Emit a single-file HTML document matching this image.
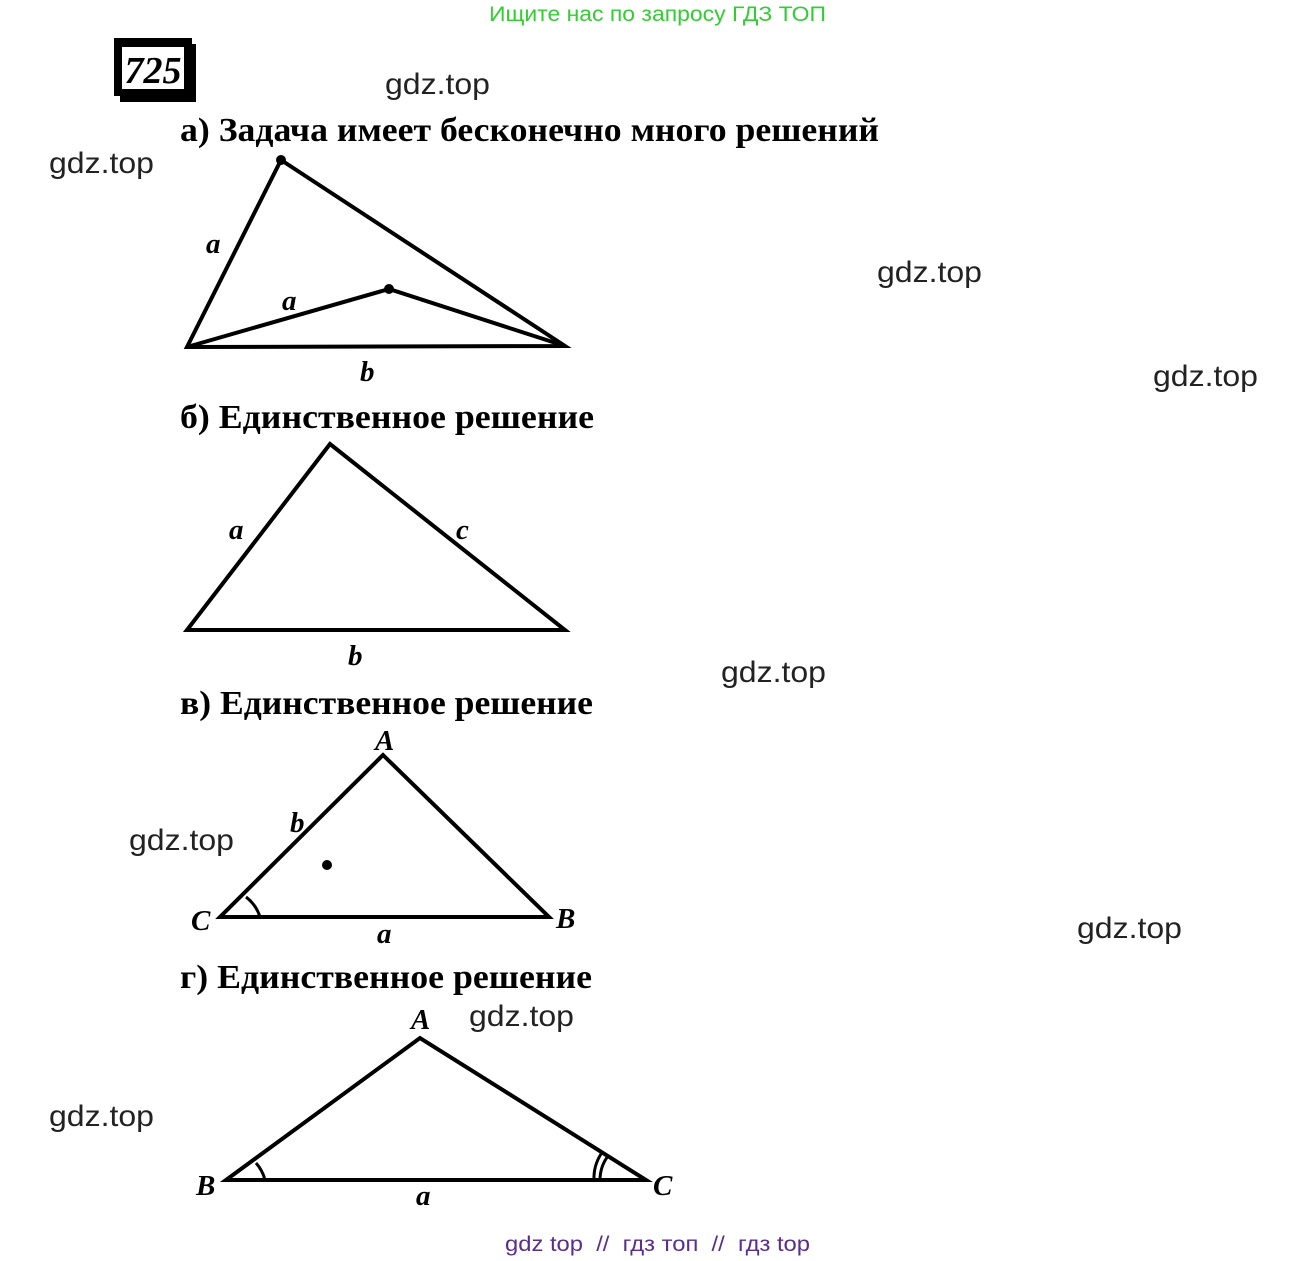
<!DOCTYPE html>
<html><head><meta charset="utf-8"><style>
html,body{margin:0;padding:0;background:#fff}
svg{display:block}
.w{font-family:"Liberation Sans","DejaVu Sans",sans-serif;font-size:30px;fill:#222}
.h{font-family:"Liberation Serif","DejaVu Serif",serif;font-size:34px;font-weight:bold;fill:#000}
.l{font-family:"Liberation Serif",serif;font-size:29px;font-style:italic;font-weight:bold;fill:#000}
</style></head><body>
<svg width="1316" height="1261" viewBox="0 0 1316 1261" xmlns="http://www.w3.org/2000/svg">
<text x="489" y="21" textLength="337" lengthAdjust="spacingAndGlyphs" font-family="Liberation Sans,sans-serif" font-size="21" fill="#33cc33">Ищите нас по запросу ГДЗ ТОП</text>
<rect x="114" y="38" width="78" height="58" fill="#000"/>
<rect x="120" y="44" width="76" height="58" fill="#000"/>
<rect x="122" y="47" width="62" height="42" fill="#fff"/>
<text x="153" y="83" text-anchor="middle" font-family="Liberation Serif,serif" font-size="38" font-weight="bold" font-style="italic">725</text>
<g class="w">
<text x="385" y="94" textLength="105" lengthAdjust="spacingAndGlyphs">gdz.top</text>
<text x="49" y="173" textLength="105" lengthAdjust="spacingAndGlyphs">gdz.top</text>
<text x="877" y="282" textLength="105" lengthAdjust="spacingAndGlyphs">gdz.top</text>
<text x="1153" y="386" textLength="105" lengthAdjust="spacingAndGlyphs">gdz.top</text>
<text x="721" y="682" textLength="105" lengthAdjust="spacingAndGlyphs">gdz.top</text>
<text x="129" y="850" textLength="105" lengthAdjust="spacingAndGlyphs">gdz.top</text>
<text x="1077" y="938" textLength="105" lengthAdjust="spacingAndGlyphs">gdz.top</text>
<text x="469" y="1026" textLength="105" lengthAdjust="spacingAndGlyphs">gdz.top</text>
<text x="49" y="1126" textLength="105" lengthAdjust="spacingAndGlyphs">gdz.top</text>
</g>
<text x="180" y="141" class="h" textLength="699" lengthAdjust="spacingAndGlyphs">а) Задача имеет бесконечно много решений</text>
<text x="180" y="428" class="h" textLength="414" lengthAdjust="spacingAndGlyphs">б) Единственное решение</text>
<text x="180" y="714" class="h" textLength="413" lengthAdjust="spacingAndGlyphs">в) Единственное решение</text>
<text x="180" y="988" class="h" textLength="412" lengthAdjust="spacingAndGlyphs">г) Единственное решение</text>
<g stroke="#000" stroke-width="4" fill="none" stroke-linejoin="miter">
<polygon points="187,347 281,160 565,346"/>
<polyline points="187,347 389,289 565,346"/>
<polygon points="187,630 330,444 565,630"/>
<polygon points="220,917 383,755 549,917"/>
<polygon points="226,1180 420,1038 646,1180"/>
</g>
<g stroke="#000" stroke-width="3" fill="none">
<path d="M246,897 A40,40 0 0 1 260,917"/>
<path d="M256,1163 A40,40 0 0 1 265,1180"/>
<path d="M601,1154 A45,45 0 0 0 594,1180"/>
<path d="M608,1156 A40,40 0 0 0 600,1180"/>
</g>
<circle cx="281" cy="160" r="5"/><circle cx="389" cy="289" r="5"/><circle cx="327" cy="865" r="5"/>
<text class="l" x="206" y="253">a</text>
<text class="l" x="282" y="310">a</text>
<text class="l" x="360" y="381">b</text>
<text class="l" x="229" y="539">a</text>
<text class="l" x="456" y="539">c</text>
<text class="l" x="348" y="665">b</text>
<text class="l" x="375" y="750">A</text>
<text class="l" x="290" y="832">b</text>
<text class="l" x="191" y="930">C</text>
<text class="l" x="556" y="928">B</text>
<text class="l" x="377" y="943">a</text>
<text class="l" x="411" y="1029">A</text>
<text class="l" x="196" y="1195">B</text>
<text class="l" x="653" y="1195">C</text>
<text class="l" x="416" y="1205">a</text>
<text x="505" y="1251" textLength="305" lengthAdjust="spacingAndGlyphs" xml:space="preserve" font-family="Liberation Sans,sans-serif" font-size="21" fill="#5a2d91">gdz top  //  гдз топ  //  гдз top</text>
</svg>
</body></html>
